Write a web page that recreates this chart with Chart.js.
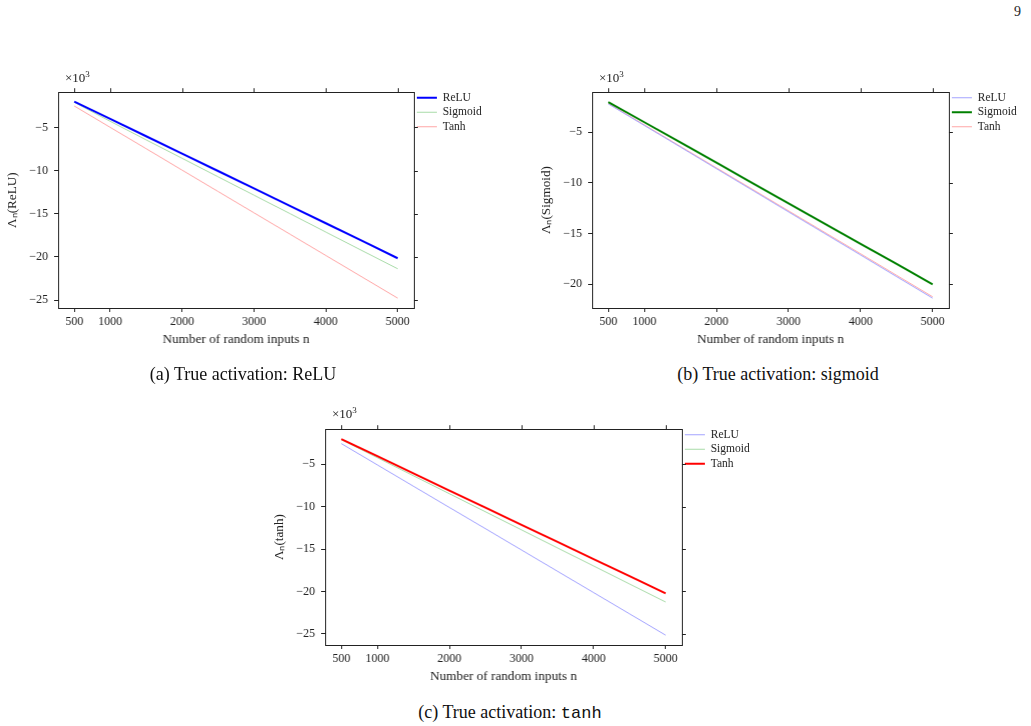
<!DOCTYPE html>
<html>
<head>
<meta charset="utf-8">
<script src="https://cdn.jsdelivr.net/npm/chart.js@4/dist/chart.umd.min.js"></script>
<style>
  body { margin: 0; background: #fff; width: 1031px; height: 726px; position: relative; overflow: hidden;
         font-family: "Liberation Serif", "Times New Roman", serif; color: #222; }
  .panel { position: absolute; height: 268px; width: 480px; }
  .txt { position: absolute; white-space: nowrap; line-height: 1; }
  .cap { font-size: 18px; transform: translateX(-50%); color: #111; }
  .exp { font-size: 13px; }
  .exp sup { font-size: 9px; }
  .tt { font-family: "Liberation Mono", monospace; font-size: 17px; }
</style>
</head>
<body>

<div class="txt" style="left:1014px; top:5px; font-size:14px;">9</div>

<div class="panel" id="boxA" style="left:0px; top:79px;"><canvas id="chartA"></canvas></div>
<div class="panel" id="boxB" style="left:534px; top:79px;"><canvas id="chartB"></canvas></div>
<div class="panel" id="boxC" style="left:267px; top:416px;"><canvas id="chartC"></canvas></div>

<div class="txt exp" style="left:65px; top:70px;">×10<sup>3</sup></div>
<div class="txt exp" style="left:599px; top:70px;">×10<sup>3</sup></div>
<div class="txt exp" style="left:332px; top:406px;">×10<sup>3</sup></div>

<div class="txt cap" style="left:243px; top:365px;">(a) True activation: ReLU</div>
<div class="txt cap" style="left:778px; top:365px;">(b) True activation: sigmoid</div>
<div class="txt cap" style="left:510px; top:703px;">(c) True activation: <span class="tt">tanh</span></div>

<script>
// ---------------- donnees (valeurs en 10^3) ----------------
const inputs = [500, 1000, 1500, 2000, 2500, 3000, 3500, 4000, 4500, 5000];
const xTicks = [500, 1000, 2000, 3000, 4000, 5000];
const yTicks = [-5, -10, -15, -20, -25];
const names  = ["ReLU", "Sigmoid", "Tanh"];

// (a) vraie activation ReLU
const aRelu    = [-2.03, -4.02, -6.03, -8.04, -10.05, -12.07, -14.08, -16.1, -18.12, -20.15];
const aSigmoid = [-2.1, -4.3, -6.45, -8.58, -10.72, -12.85, -14.98, -17.12, -19.25, -21.37];
const aTanh    = [-2.53, -5.0, -7.47, -9.95, -12.42, -14.89, -17.36, -19.83, -22.3, -24.77];

// (b) vraie activation sigmoid
const bRelu    = [-2.2, -4.33, -6.46, -8.6, -10.73, -12.87, -15.0, -17.13, -19.27, -21.4];
const bSigmoid = [-2.01, -4.01, -6.01, -8.01, -10.02, -12.02, -14.02, -16.02, -18.02, -20.03];
const bTanh    = [-2.15, -4.27, -6.4, -8.52, -10.64, -12.77, -14.89, -17.01, -19.14, -21.26];

// (c) vraie activation tanh
const cRelu    = [-2.57, -5.08, -7.59, -10.1, -12.6, -15.11, -17.62, -20.13, -22.64, -25.15];
const cSigmoid = [-2.1, -4.23, -6.36, -8.48, -10.61, -12.74, -14.87, -16.99, -19.12, -21.24];
const cTanh    = [-2.03, -4.05, -6.07, -8.1, -10.12, -12.14, -14.16, -16.18, -18.2, -20.23];

const thickColors = ["#0000ff", "#008000", "#ff0000"];
const thinColors  = ["#a3a3ff", "#a8dba8", "#ffa6a6"];

// ---------------- cadre + graduations miroir (style pgfplots) ----------------
const cadrePlugin = {
  id: "cadre",
  afterDraw(chart) {
    const { ctx, chartArea: a, scales } = chart;
    ctx.save();
    ctx.strokeStyle = "#222";
    ctx.lineWidth = 1;
    ctx.strokeRect(Math.round(a.left) + 0.5, Math.round(a.top) + 0.5,
                   Math.round(a.right - a.left), Math.round(a.bottom - a.top));
    ctx.beginPath();
    scales.x.ticks.forEach(t => {
      const px = Math.round(scales.x.getPixelForValue(t.value)) + 0.5;
      ctx.moveTo(px, a.top); ctx.lineTo(px, a.top - 4);
    });
    scales.y.ticks.forEach(t => {
      const py = Math.round(scales.y.getPixelForValue(t.value)) + 0.5;
      ctx.moveTo(a.right, py); ctx.lineTo(a.right + 4, py);
    });
    ctx.stroke();
    ctx.restore();
  }
};

const fontTick  = { family: "Liberation Serif", size: 12 };
const fontTitle = { family: "Liberation Serif", size: 13.2 };

function dessiner(canvasId, boxId, series, vraie, yLabel, yMin, yMax, rightTarget) {
  const datasets = series.map((vals, i) => {
    const couleur = i === vraie ? thickColors[i] : thinColors[i];
    const epaisseur = i === vraie ? 2 : 1;
    return {
      label: names[i],
      data: inputs.map((n, k) => ({ x: n, y: vals[k] })),
      borderColor: couleur,
      backgroundColor: couleur,
      borderWidth: epaisseur,
      pointBorderColor: couleur,
      pointBackgroundColor: couleur,
      pointBorderWidth: epaisseur,
      pointRadius: 0,
      tension: 0,
      order: i === vraie ? 0 : 1   // la vraie activation dessinee au-dessus
    };
  });

  const chart = new Chart(document.getElementById(canvasId), {
    type: "line",
    data: { datasets },
    plugins: [cadrePlugin],
    options: {
      responsive: true,
      maintainAspectRatio: false,
      animation: false,
      layout: { padding: { top: 10, left: 0, bottom: 0, right: 0 } },
      plugins: {
        tooltip: { enabled: false },
        legend: {
          position: "right",
          align: "start",
          labels: {
            usePointStyle: true,
            pointStyle: "line",
            pointStyleWidth: 20,
            padding: 3,
            textAlign: "left",
            color: "#222",
            font: { family: "Liberation Serif", size: 11.5 },
            sort: (p, q) => p.datasetIndex - q.datasetIndex
          }
        }
      },
      scales: {
        x: {
          type: "linear",
          min: 275,
          max: 5225,
          afterBuildTicks: s => { s.ticks = xTicks.map(v => ({ value: v })); },
          afterFit: s => { s.height = 39; },
          grid: { drawOnChartArea: false, tickLength: 4, color: "#222" },
          border: { color: "#222" },
          ticks: { font: fontTick, color: "#222", padding: 3, maxRotation: 0, autoSkip: false,
                   callback: v => String(v) },
          title: { display: true, text: "Number of random inputs n", font: fontTitle, color: "#222",
                   padding: { top: 0, bottom: 0 } }
        },
        y: {
          type: "linear",
          min: yMin,
          max: yMax,
          afterBuildTicks: s => {
            s.ticks = yTicks.filter(v => v >= s.min && v <= s.max).map(v => ({ value: v }));
          },
          afterFit: s => { s.width = 58; },
          grid: { drawOnChartArea: false, tickLength: 4, color: "#222" },
          border: { color: "#222" },
          ticks: { font: fontTick, color: "#222", padding: 6,
                   callback: v => "\u2212" + Math.abs(v) },
          title: { display: true, text: yLabel, font: fontTitle, color: "#222",
                   padding: { top: 5, bottom: 2 } }
        }
      }
    }
  });

  // ajuste la largeur pour que le bord droit du cadre tombe au bon endroit
  const box = document.getElementById(boxId);
  const diff = rightTarget - chart.chartArea.right;
  if (Math.abs(diff) > 0.5) {
    box.style.width = (box.clientWidth + diff) + "px";
    chart.resize();
  }
  return chart;
}

dessiner("chartA", "boxA", [aRelu, aSigmoid, aTanh], 0, "\u039B\u2099(ReLU)", -25.91, -0.93, 413);
dessiner("chartB", "boxB", [bRelu, bSigmoid, bTanh], 1, "\u039B\u2099(Sigmoid)", -22.37, -1.04, 414);
dessiner("chartC", "boxC", [cRelu, cSigmoid, cTanh], 2, "\u039B\u2099(tanh)", -26.31, -0.87, 414);
</script>
</body>
</html>
